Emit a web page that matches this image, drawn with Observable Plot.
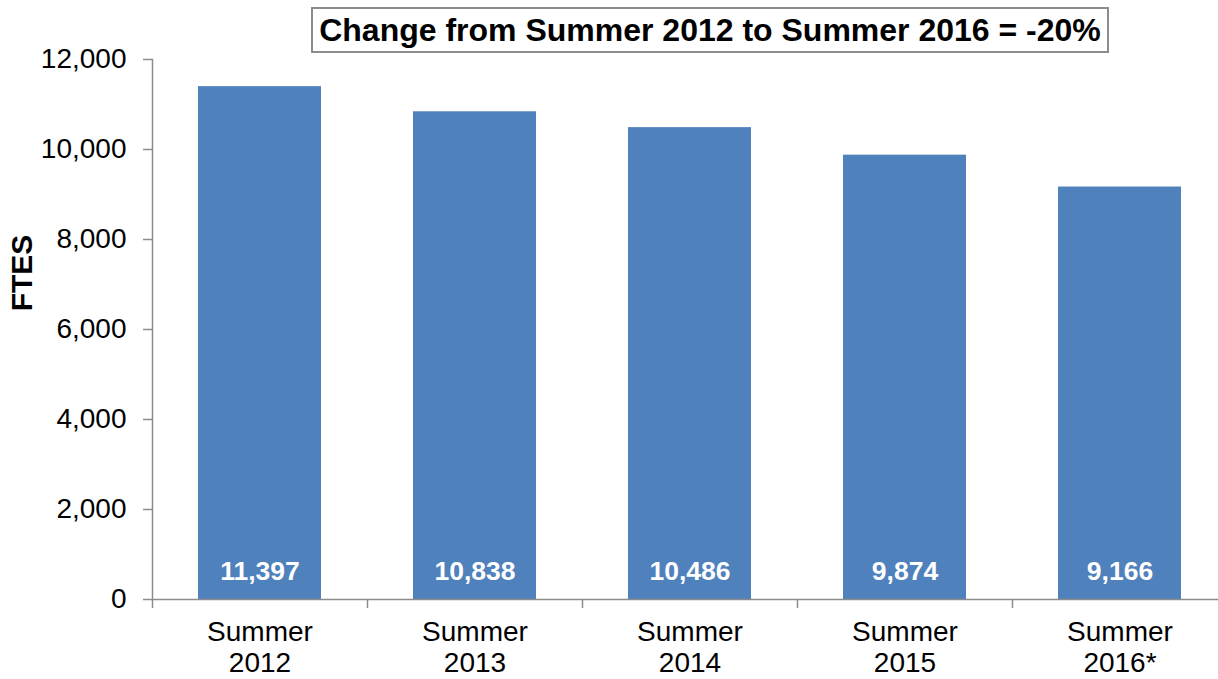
<!DOCTYPE html>
<html>
<head>
<meta charset="utf-8">
<script src="https://cdn.jsdelivr.net/npm/d3@7"></script>
<script src="https://cdn.jsdelivr.net/npm/@observablehq/plot@0.6"></script>
<style>
  html, body { margin: 0; padding: 0; background: #fff; }
  #wrap { position: relative; width: 1218px; height: 679px; overflow: hidden; font-family: "Liberation Sans", Arial, sans-serif; }
  #title { position: absolute; left: 311px; top: 7px; width: 794px; height: 42px; border: 2px solid #8c8c8c;
           font-weight: bold; font-size: 32px; line-height: 43px; text-align: center; color: #000; box-sizing: content-box; white-space: nowrap; }
  #ylabel { position: absolute; left: 22px; top: 273px; transform: translate(-50%, -50%) rotate(-90deg);
            font-weight: bold; font-size: 30px; white-space: nowrap; color: #000; }
  svg { position: absolute; left: 0; top: 0; }
</style>
</head>
<body>
<div id="wrap">
</div>
<script>
const categories = ["Summer 2012", "Summer 2013", "Summer 2014", "Summer 2015", "Summer 2016*"];
const values = [11397, 10838, 10486, 9874, 9166];
const yTicks = [0, 2000, 4000, 6000, 8000, 10000, 12000];
const titleText = "Change from Summer 2012 to Summer 2016 = -20%";
const yLabelText = "FTES";

const data = categories.map((c, i) => ({category: c, value: values[i]}));
const fmt = d3.format(",");

const W = 1218, H = 679;
const mL = 152, mR = -9, mT = 59, mB = 80;
const step = (W - mL - mR) / categories.length;

const chart = Plot.plot({
  width: W,
  height: H,
  marginLeft: mL,
  marginRight: mR,
  marginTop: mT,
  marginBottom: mB,
  style: {fontFamily: "Liberation Sans, Arial, sans-serif", background: "transparent", overflow: "visible"},
  x: {domain: categories, paddingInner: 0.43, paddingOuter: 0.215},
  y: {domain: [0, 12000]},
  marks: [
    Plot.barY(data, {x: "category", y: "value", fill: "#4f81bd"}),
    Plot.text(data, {x: "category", y: 0, text: d => fmt(d.value), fill: "#fff", fontWeight: "bold", fontSize: 26.5, dy: -28}),
    Plot.ruleY([0], {stroke: "#8c8c8c", strokeWidth: 1.5}),
    Plot.frame({anchor: "left", stroke: "#8c8c8c", strokeWidth: 1.5}),
    Plot.ruleX(categories, {x: d => d, y1: 0, y2: -200, dx: -step / 2, stroke: "#8c8c8c", strokeWidth: 1.5, clip: false}),
    Plot.axisY({ticks: yTicks, tickFormat: fmt, tickSize: 9, tickPadding: 17, fontSize: 28, stroke: "#8c8c8c", strokeWidth: 1.5, fill: "#000", label: null}),
    Plot.axisX({tickSize: 0, tickPadding: 20, fontSize: 28, lineHeight: 1.1, fill: "#000", label: null,
                tickFormat: d => d.replace(" ", "\n")})
  ]
});

const wrap = document.getElementById("wrap");
wrap.appendChild(chart);
const t = document.createElement("div"); t.id = "title"; t.textContent = titleText; wrap.appendChild(t);
const yl = document.createElement("div"); yl.id = "ylabel"; yl.textContent = yLabelText; wrap.appendChild(yl);
</script>
</body>
</html>
